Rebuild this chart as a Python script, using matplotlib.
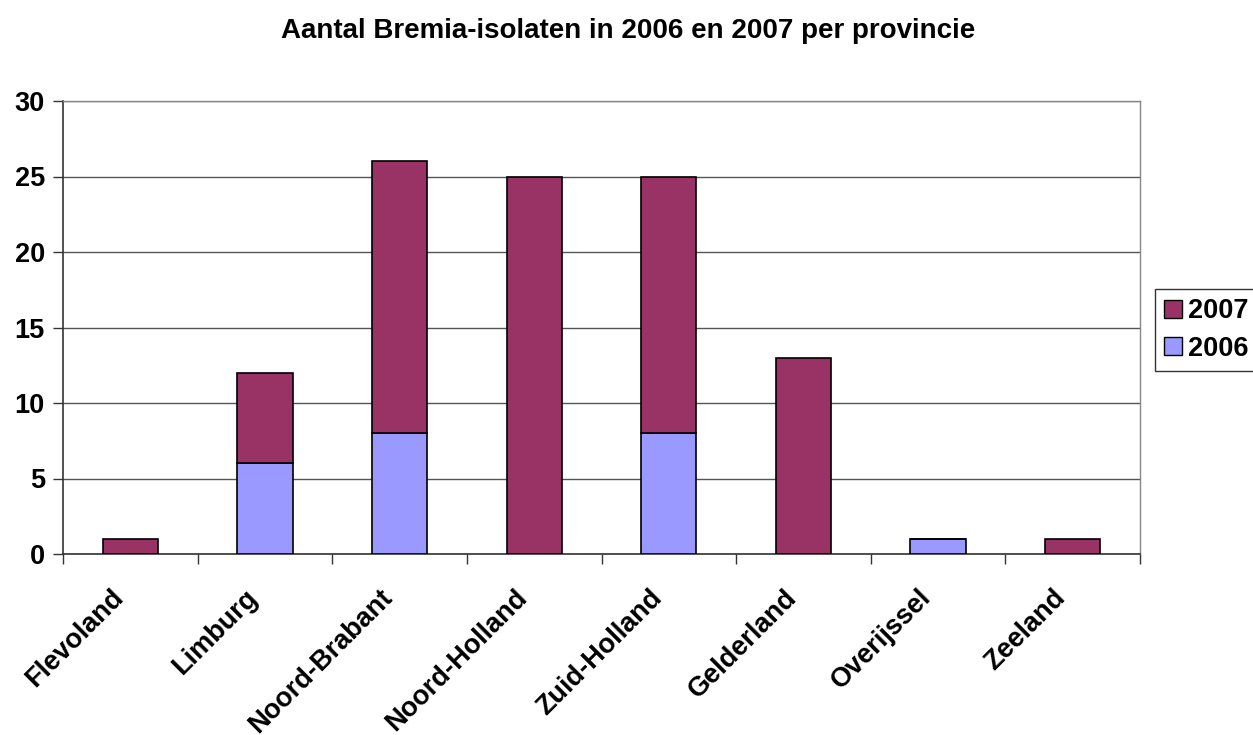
import numpy as np
import matplotlib
matplotlib.use("Agg")
import matplotlib.pyplot as plt
import matplotlib.transforms as mtransforms
from matplotlib.patches import Patch

provincies = ["Flevoland", "Limburg", "Noord-Brabant", "Noord-Holland",
              "Zuid-Holland", "Gelderland", "Overijssel", "Zeeland"]
isolaten_2006 = [0, 6, 8, 0, 8, 0, 1, 0]
isolaten_2007 = [1, 6, 18, 25, 17, 13, 0, 1]

KLEUR_2006 = "#9999FF"
KLEUR_2007 = "#993366"

plt.rcParams["font.family"] = ["Liberation Sans", "DejaVu Sans"]
plt.rcParams["font.weight"] = "bold"

W, H = 1253, 735
fig = plt.figure(figsize=(W / 100, H / 100), dpi=100)
fig.patch.set_facecolor("white")
ax = fig.add_axes([63 / W, 1 - 554 / H, (1140 - 63) / W, (554 - 101) / H])

x = np.arange(len(provincies))
ax.bar(x, isolaten_2006, width=0.41, color=KLEUR_2006, edgecolor="black",
       linewidth=1.2, zorder=3)
ax.bar(x, isolaten_2007, width=0.41, bottom=isolaten_2006, color=KLEUR_2007,
       edgecolor="black", linewidth=1.2, zorder=3)

ax.set_xlim(-0.5, len(provincies) - 0.5)
ax.set_ylim(0, 30)
ax.set_yticks(range(0, 31, 5))
ax.yaxis.grid(True, color="#555555", linewidth=1.0, zorder=0)

# tick-streepjes op de grenzen tussen categorieën, labels in het midden
ax.set_xticks(np.arange(-0.5, len(provincies)), minor=False)
ax.set_xticklabels([])
ax.set_xticks(x, minor=True)
ax.set_xticklabels(provincies, minor=True, rotation=45, ha="right",
                   rotation_mode="anchor", fontsize=19.5, fontweight="bold")
ax.tick_params(axis="x", which="minor", length=0, pad=22)
ax.tick_params(axis="x", which="major", length=7, width=1, direction="out",
               color="#333333")
ax.tick_params(axis="y", length=7, width=1, direction="out", color="#333333",
               labelsize=19.5, pad=6)
for lbl in ax.get_yticklabels():
    lbl.set_fontweight("bold")

# schuin gezette labels iets naar links, zodat het einde net links van het midden valt
shift = mtransforms.ScaledTranslation(-0.2, 0, fig.dpi_scale_trans)
for lbl in ax.get_xticklabels(minor=True):
    lbl.set_transform(lbl.get_transform() + shift)

for side in ["left", "bottom"]:
    ax.spines[side].set_color("#333333")
    ax.spines[side].set_linewidth(1.2)
for side in ["top", "right"]:
    ax.spines[side].set_color("#888888")
    ax.spines[side].set_linewidth(1.0)

fig.text(628 / W, 1 - 31 / H, "Aantal Bremia-isolaten in 2006 en 2007 per provincie",
         ha="center", va="center", fontsize=20, fontweight="bold")

handles = [Patch(facecolor=KLEUR_2007, edgecolor="black", label="2007"),
           Patch(facecolor=KLEUR_2006, edgecolor="black", label="2006")]
fig.legend(handles=handles, loc="upper left",
           bbox_to_anchor=(1155 / W, 1 - 289 / H), frameon=True, fancybox=False,
           edgecolor="black", handlelength=0.65, handleheight=0.65,
           handletextpad=0.22, borderpad=0.35, borderaxespad=0,
           labelspacing=0.42, prop={"weight": "bold", "size": 19.5})

fig.savefig("out.png", dpi=100)
